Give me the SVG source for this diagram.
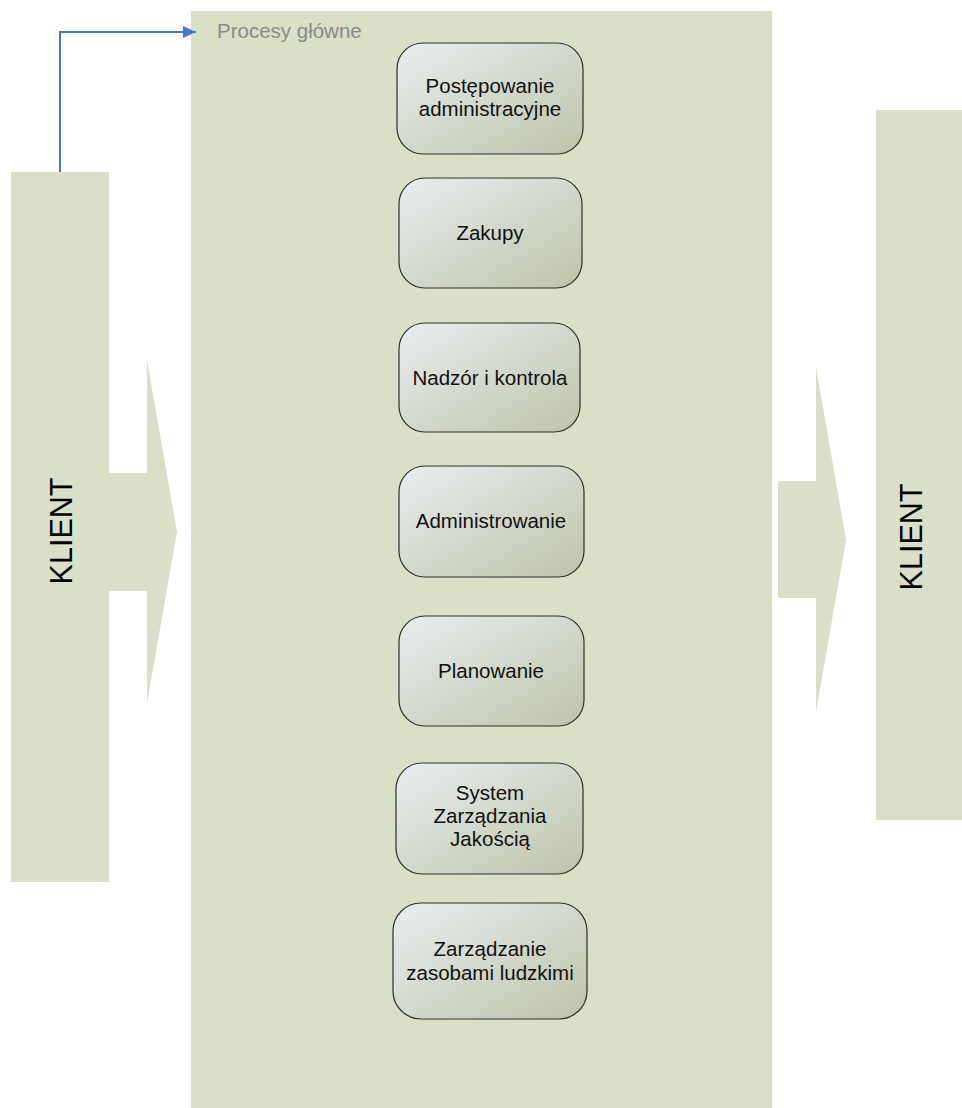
<svg xmlns="http://www.w3.org/2000/svg" width="962" height="1108" viewBox="0 0 962 1108">
<style>
.bg{fill:#dadfc7}
.node{stroke:#2e2e2e;stroke-width:1.2;fill:url(#g)}
.t{font-family:"Liberation Sans",Arial,sans-serif;font-size:20.5px;fill:#111;text-anchor:middle}
.k{font-family:"Liberation Sans",Arial,sans-serif;font-size:30.5px;fill:#000;text-anchor:middle}
</style>
<defs>
<linearGradient id="g" x1="0" y1="0" x2="1" y2="1">
<stop offset="0" stop-color="#e9edf0"/>
<stop offset="1" stop-color="#bec4aa"/>
</linearGradient>
<marker id="ah" markerWidth="13" markerHeight="12" refX="13" refY="6" orient="auto" markerUnits="userSpaceOnUse">
<path d="M0,0 L13,6 L0,12 z" fill="#4676c8"/>
</marker>
</defs>
<g id="container"><rect class="bg" x="191" y="11" width="581" height="1097"/>
<text x="217" y="38" font-family="Liberation Sans,Arial,sans-serif" font-size="20.5" fill="#8a8a8a">Procesy główne</text></g>
<g id="klient-left"><rect class="bg" x="11" y="172" width="98" height="710"/>
<text class="k" transform="translate(72,531) rotate(-90)">KLIENT</text></g>
<g id="klient-right"><rect class="bg" x="876" y="110" width="86" height="710"/>
<text class="k" transform="translate(922,537) rotate(-90)">KLIENT</text></g>
<g id="arrow-left"><path class="bg" d="M109,473 H147 V360 L177,532 L147,703 V591 H109 Z"/></g>
<g id="arrow-right"><path class="bg" d="M778,481 H816 V367 L846,540 L816,712 V598 H778 Z"/></g>
<g id="n1"><rect class="node" x="397" y="43" width="186" height="111" rx="26"/>
<text class="t" x="490" y="93">Postępowanie</text><text class="t" x="490" y="116">administracyjne</text></g>
<g id="n2"><rect class="node" x="399" y="178" width="183" height="110" rx="26"/>
<text class="t" x="490" y="240">Zakupy</text></g>
<g id="n3"><rect class="node" x="399" y="323" width="181" height="109" rx="26"/>
<text class="t" x="490" y="385">Nadzór i kontrola</text></g>
<g id="n4"><rect class="node" x="399" y="466" width="185" height="111" rx="26"/>
<text class="t" x="491" y="528">Administrowanie</text></g>
<g id="n5"><rect class="node" x="399" y="616" width="185" height="110" rx="26"/>
<text class="t" x="491" y="678">Planowanie</text></g>
<g id="n6"><rect class="node" x="396" y="763" width="187" height="111" rx="26"/>
<text class="t" x="490" y="800">System</text><text class="t" x="490" y="823">Zarządzania</text><text class="t" x="490" y="846">Jakością</text></g>
<g id="n7"><rect class="node" x="393" y="903" width="194" height="116" rx="28"/>
<text class="t" x="490" y="956">Zarządzanie</text><text class="t" x="490" y="980">zasobami ludzkimi</text></g>
<g id="connectors"><path d="M60,172 V32 H196" fill="none" stroke="#4676c8" stroke-width="2" marker-end="url(#ah)"/></g>
</svg>
